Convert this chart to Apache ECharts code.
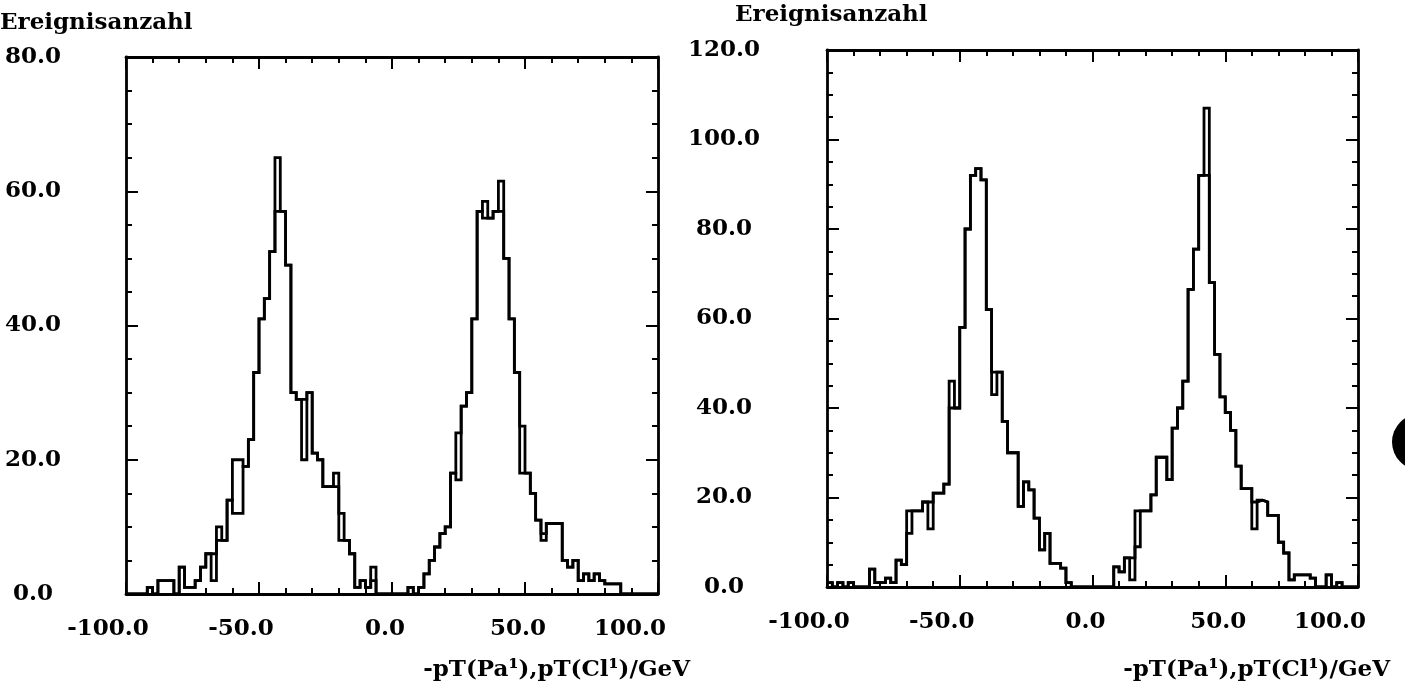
<!DOCTYPE html>
<html><head><meta charset="utf-8">
<script src="https://cdn.jsdelivr.net/npm/echarts@6/dist/echarts.min.js"></script>
<style>html,body{margin:0;padding:0;background:#fff}#c{width:1405px;height:690px}</style>
</head><body><div id="c"></div>
<script>
// ---- data ----
const binStart = -100;
const binWidth = 2;
const xTicks = [-100, -50, 0, 50, 100];
const yTitle = 'Ereignisanzahl';
const xTitle = '-pT(Pa\u00b9),pT(Cl\u00b9)/GeV';

// left panel, histogram A (100 bins of width 2 from -100)
const leftA = [
  0,0,0,0,1,0,2,2,2,0,
  4,1,1,2,4,6,2,10,8,14,
  20,20,19,23,33,41,44,51,65,57,
  49,30,29,20,30,21,20,16,16,18,
  8,8,6,1,2,1,4,0,0,0,
  0,0,0,1,0,1,3,5,7,9,
  10,18,24,28,30,41,57,58.5,56,57,
  61.5,50,41,33,25,18,15,11,9,10.5,
  10.5,10.5,5,4,5,2,3,2,3,2,
  1.5,1.5,1.5,0,0,0,0,0,0,0
];
// left panel, histogram B differs only in these bins: [bin, value]
const leftBDiff = [[16,6],[17,8],[20,12],[21,12],[28,57],[33,29],[39,16],[40,12],[46,2],[62,17],[67,56],[70,57],[74,18],[78,8]];

const rightA = [
  1,0,1,0,1,0,0,0,4,1,
  1,2,1,6,5,17,17,17,19,19,
  21,21,23,46,40,58,80,92,93.5,91,
  62,48,48,37,30,30,18,23.5,21.7,15.4,
  8.3,12,5.3,5.3,4.2,1,0,0,0,0,
  0,0,0,0,4.5,3.4,6.5,6.5,17,17,
  17,20.6,29,29,24,35.5,40,46,66.5,75.5,
  92,107,68,52,42.5,39,35,27,22,22,
  19,19.4,19,16,16,10,7.6,1.6,2.7,2.7,
  2.7,2,0,0,2.7,0,1,0,0,0
];
const rightBDiff = [[15,12],[19,13],[23,40],[31,43],[57,1.6],[58,9],[71,92],[80,13]];

function histPoints(vals, diff) {
  const v = vals.slice();
  if (diff) diff.forEach(([k, val]) => { v[k] = val; });
  const pts = v.map((y, k) => [binStart + k * binWidth, y]);
  pts.push([binStart + v.length * binWidth, v[v.length - 1]]);
  return pts;
}

// ---- styling ----
const FONT = 'DejaVu Serif';
const FS = 23;
const txt = { fontFamily: FONT, fontWeight: 'bold', fontSize: FS, color: '#000' };
// per-label horizontal nudge (right padding shifts the centred label left), as in the scanned plot
const xLabelPad = [36, 36, 14, 14, 56];
const xRich = {};
xLabelPad.forEach((p, i) => { xRich['p' + i] = Object.assign({ padding: [0, p, 0, 0] }, txt); });

const axisLine = { show: true, onZero: false, lineStyle: { color: '#000', width: 2.8 } };
function xAxes(gi) {
  const common = { type: 'value', gridIndex: gi, min: -100, max: 100, interval: 50,
    axisLine, splitLine: { show: false },
    axisTick: { show: true, inside: true, length: 12, lineStyle: { color: '#000', width: 2 } },
    minorTick: { show: true, splitNumber: 5, length: 6, lineStyle: { color: '#000', width: 2 } } };
  return [
    Object.assign({}, common, { position: 'bottom',
      axisLabel: Object.assign({ show: true, margin: 24, showMinLabel: true, showMaxLabel: true,
        formatter: v => '{p' + xTicks.indexOf(v) + '|' + v.toFixed(1) + '}', rich: xRich }, txt) }),
    Object.assign({}, common, { position: 'top', axisLabel: { show: false } })
  ];
}
function yAxes(gi, max, margin) {
  const common = { type: 'value', gridIndex: gi, min: 0, max: max, interval: 20,
    axisLine, splitLine: { show: false },
    axisTick: { show: true, inside: true, length: 12, lineStyle: { color: '#000', width: 2 } },
    minorTick: { show: true, splitNumber: 4, length: 6, lineStyle: { color: '#000', width: 2 } } };
  return [
    Object.assign({}, common, { position: 'left',
      axisLabel: Object.assign({ show: true, margin: margin, align: 'center', padding: [7, 0, 0, 0],
        formatter: v => v.toFixed(1) }, txt) }),
    Object.assign({}, common, { position: 'right', axisLabel: { show: false } })
  ];
}
const lineSeries = (xi, yi, data) => ({
  type: 'line', xAxisIndex: xi, yAxisIndex: yi, data: data, step: 'end', symbol: 'none',
  lineStyle: { color: '#000', width: 2.8, join: 'miter' }, animation: false, silent: true
});

const option = {
  animation: false,
  grid: [
    { left: 126, top: 57, width: 532, height: 537 },
    { left: 827, top: 50, width: 531, height: 537 }
  ],
  xAxis: [...xAxes(0), ...xAxes(1)],
  yAxis: [...yAxes(0, 80, 93), ...yAxes(1, 120, 103)],
  series: [
    lineSeries(0, 0, histPoints(leftA)),
    lineSeries(0, 0, histPoints(leftA, leftBDiff)),
    lineSeries(2, 2, histPoints(rightA)),
    lineSeries(2, 2, histPoints(rightA, rightBDiff))
  ],
  graphic: [
    { type: 'text', left: 0, top: 12, style: { text: yTitle, font: 'bold ' + FS + 'px "DejaVu Serif"', fill: '#000' } },
    { type: 'text', left: 735, top: 4, style: { text: yTitle, font: 'bold ' + FS + 'px "DejaVu Serif"', fill: '#000' } },
    { type: 'text', right: 1405 - 690, top: 659, style: { text: xTitle, font: 'bold ' + FS + 'px "DejaVu Serif"', fill: '#000' } },
    { type: 'text', right: 15, top: 659, style: { text: xTitle, font: 'bold ' + FS + 'px "DejaVu Serif"', fill: '#000' } },
    { type: 'circle', shape: { cx: 1420, cy: 442, r: 28 }, style: { fill: '#000' } }
  ]
};
const chart = echarts.init(document.getElementById('c'), null, { renderer: 'canvas' });
chart.setOption(option);
</script></body></html>
